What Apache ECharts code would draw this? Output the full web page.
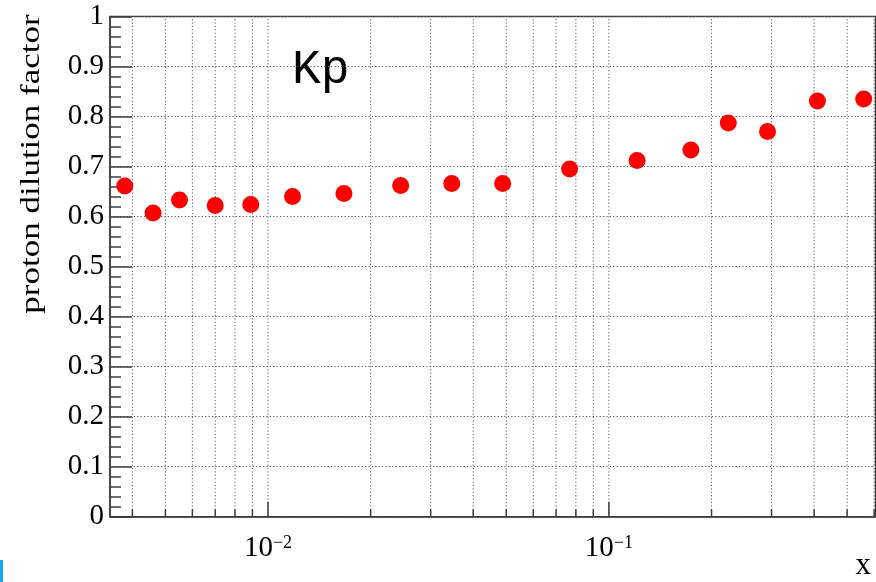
<!DOCTYPE html>
<html>
<head>
<meta charset="utf-8">
<title>proton dilution factor vs x</title>
<script src="https://cdn.jsdelivr.net/npm/echarts@6/dist/echarts.min.js"></script>
<style>
  html, body { margin: 0; padding: 0; background: #fff; }
  #chart { width: 876px; height: 582px; }
</style>
</head>
<body>
<div id="chart"></div>
<script>
// Bjorken-x bin centres and the measured proton dilution factor (Kp)
const xValues = [0.0038, 0.0046, 0.0055, 0.0070, 0.0089, 0.0118, 0.0167, 0.0245, 0.0346,
                 0.0488, 0.0767, 0.121, 0.174, 0.224, 0.292, 0.409, 0.559];
const dilution = [0.661, 0.607, 0.633, 0.622, 0.624, 0.640, 0.646, 0.662, 0.666,
                  0.666, 0.695, 0.712, 0.733, 0.787, 0.770, 0.831, 0.835];

// log x axis: decade ticks (labelled) and the sub-decade ticks in between
const xDecades = [0.01, 0.1];
const xDecadeExponents = ['\u22122', '\u22121'];
const xSubTicks = [0.004, 0.005, 0.006, 0.007, 0.008, 0.009,
                   0.02, 0.03, 0.04, 0.05, 0.06, 0.07, 0.08, 0.09,
                   0.2, 0.3, 0.4, 0.5, 0.6];
const xRange = [0.003439, 0.6055];

const yRange = [0, 1];
const yStep = 0.1;

const frameColor = '#3c3c3c';
const gridColor = '#5a5a5a';
const serif = 'Liberation Serif';

const tickItems = xSubTicks.map(v => [v, 0, -1])
  .concat(xDecades.map((v, i) => [v, 1, i]));

const chart = echarts.init(document.getElementById('chart'), null, { renderer: 'canvas' });

chart.setOption({
  animation: false,
  backgroundColor: '#ffffff',
  grid: {
    left: 110, top: 16.5, width: 765.5, height: 500.2,
    show: true, borderColor: frameColor, borderWidth: 1.5, backgroundColor: 'transparent'
  },
  xAxis: {
    type: 'log', logBase: 10, min: xRange[0], max: xRange[1],
    axisLine: { show: true, lineStyle: { color: frameColor, width: 1.5 } },
    axisTick: { show: false },
    axisLabel: { show: false },
    splitLine: { show: false },
    minorTick: { show: false },
    minorSplitLine: { show: false }
  },
  yAxis: {
    type: 'value', min: yRange[0], max: yRange[1], interval: yStep,
    axisLine: { show: true, lineStyle: { color: frameColor, width: 1.5 } },
    axisTick: { show: true, inside: true, length: 22, lineStyle: { color: frameColor, width: 1.5 } },
    minorTick: { show: true, splitNumber: 5, length: 11, lineStyle: { color: frameColor, width: 1.5 } },
    axisLabel: {
      margin: 6, color: '#000', fontFamily: serif, fontSize: 29,
      formatter: v => (Math.abs(v - 1) < 1e-9 ? '1' : (v === 0 ? '0' : v.toFixed(1)))
    },
    splitLine: { show: true, lineStyle: { color: gridColor, width: 1, type: [1.2, 2.2] } }
  },
  graphic: [
    {
      type: 'text', x: 32, y: 164, rotation: Math.PI / 2, scaleX: 1.25, scaleY: 1,
      style: {
        text: 'proton dilution factor', fill: '#000', fontFamily: serif, fontSize: 28,
        align: 'center', verticalAlign: 'middle'
      }
    },
    {
      type: 'text', x: 871, y: 566,
      style: { text: 'x', fill: '#000', fontFamily: serif, fontSize: 31, align: 'right', verticalAlign: 'middle' }
    },
    {
      type: 'text', x: 292, y: 70,
      style: { text: 'Kp', fill: '#000', fontFamily: 'Liberation Mono', fontSize: 48, align: 'left', verticalAlign: 'middle' }
    },
    {
      type: 'rect', shape: { x: 0, y: 560, width: 3, height: 22 },
      style: { fill: '#1aa8ee' }
    }
  ],
  series: [
    {
      // vertical grid lines, bottom ticks and decade labels of the log axis
      type: 'custom',
      clip: false,
      silent: true,
      z: 1,
      data: tickItems,
      renderItem: (params, api) => {
        const xv = api.value(0);
        const major = api.value(1) === 1;
        const idx = api.value(2);
        const bottom = api.coord([xv, yRange[0]]);
        const top = api.coord([xv, yRange[1]]);
        const children = [
          {
            type: 'line',
            shape: { x1: bottom[0], y1: bottom[1], x2: top[0], y2: top[1] },
            style: { stroke: gridColor, lineWidth: 1, lineDash: [1.2, 2.2] }
          },
          {
            type: 'line',
            shape: { x1: bottom[0], y1: bottom[1], x2: bottom[0], y2: bottom[1] - (major ? 15 : 7.5) },
            style: { stroke: frameColor, lineWidth: 1.5 }
          }
        ];
        if (major) {
          children.push({
            type: 'text',
            x: bottom[0], y: bottom[1] + 16,
            style: {
              text: '{b|10}{e|' + xDecadeExponents[idx] + '}',
              align: 'center', verticalAlign: 'top',
              rich: {
                b: { fontFamily: serif, fontSize: 29, fill: '#000', lineHeight: 30, verticalAlign: 'bottom' },
                e: { fontFamily: serif, fontSize: 18, fill: '#000', lineHeight: 30, verticalAlign: 'top', padding: [2, 0, 0, 0] }
              }
            }
          });
        }
        return { type: 'group', children };
      }
    },
    {
      type: 'scatter',
      z: 5,
      symbol: 'circle',
      symbolSize: 17,
      itemStyle: { color: '#ff0000', opacity: 1 },
      data: xValues.map((x, i) => [x, dilution[i]])
    }
  ]
});
</script>
</body>
</html>
